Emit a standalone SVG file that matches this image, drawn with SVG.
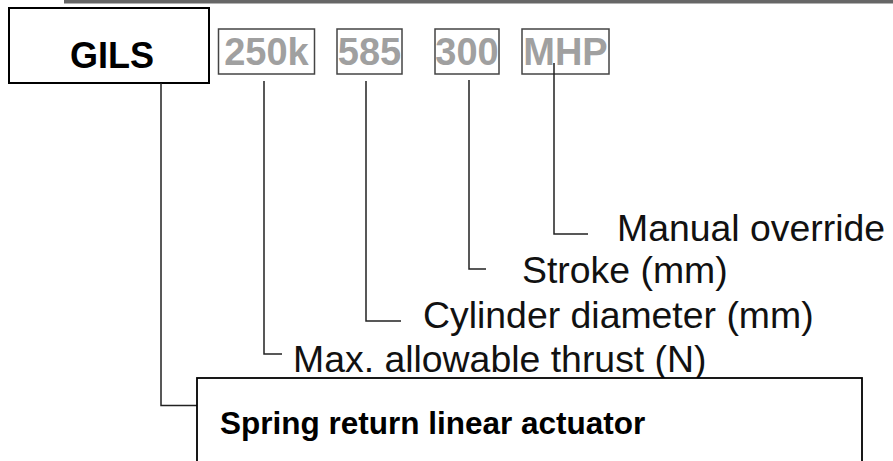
<svg xmlns="http://www.w3.org/2000/svg" width="893" height="461" viewBox="0 0 893 461">
<style>
.code{font-family:"Liberation Sans",Arial,sans-serif;font-weight:bold;font-size:38px;fill:#a0a0a0;text-anchor:middle}
.cbox{fill:none;stroke:#444;stroke-width:1.5}
.lbl{font-family:"Liberation Sans",Arial,sans-serif;font-size:37.4px;fill:#111}
.conn{fill:none;stroke:#222;stroke-width:1.5}
</style>
<rect x="64" y="0" width="829" height="3.5" fill="#666"/>
<g id="gils">
<rect x="9" y="8" width="200" height="75" fill="#fff" stroke="#000" stroke-width="2"/>
<text x="112" y="68" style="font-family:'Liberation Sans',Arial,sans-serif;font-weight:bold;font-size:36px;text-anchor:middle">GILS</text>
</g>
<g id="code-250k">
<rect class="cbox" x="218.5" y="29" width="96" height="45"/>
<text class="code" x="266.5" y="65">250k</text>
</g>
<g id="code-585">
<rect class="cbox" x="337" y="29" width="65" height="45"/>
<text class="code" x="369.5" y="65">585</text>
</g>
<g id="code-300">
<rect class="cbox" x="435" y="29" width="64" height="45"/>
<text class="code" x="467" y="65">300</text>
</g>
<g id="code-mhp">
<rect class="cbox" x="522" y="29" width="87" height="45"/>
<text class="code" x="565.5" y="65">MHP</text>
</g>
<g id="connectors">
<polyline class="conn" points="161,83 161,405.5 197,405.5"/>
<polyline class="conn" points="264,81 264,354 282,354"/>
<polyline class="conn" points="366,81 366,321 401,321"/>
<polyline class="conn" points="469,80 469,269 486,269"/>
<polyline class="conn" points="554,63 554,234 588,234"/>
</g>
<g id="label-manual"><text class="lbl" x="617" y="241">Manual override</text></g>
<g id="label-stroke"><text class="lbl" x="522" y="283">Stroke (mm)</text></g>
<g id="label-cyl"><text class="lbl" x="423" y="328">Cylinder diameter (mm)</text></g>
<g id="label-max"><text class="lbl" x="293" y="372">Max. allowable thrust (N)</text></g>
<g id="spring">
<rect x="197" y="378" width="665" height="100" fill="#fff" stroke="#000" stroke-width="1.8"/>
<text x="220" y="434" style="font-family:'Liberation Sans',Arial,sans-serif;font-weight:bold;font-size:31.5px">Spring return linear actuator</text>
</g>
</svg>
